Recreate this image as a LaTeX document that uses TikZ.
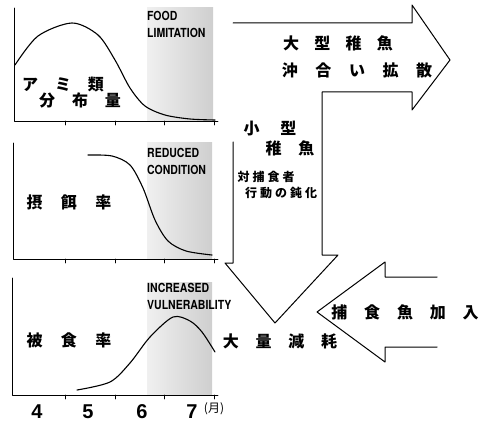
\documentclass[tikz,border=0pt]{standalone}
\usepackage{fontspec}
\newfontfamily\jp{Noto Sans CJK JP}
\newfontfamily\cond[FakeStretch=0.84]{TeX Gyre Heros}
\newfontfamily\digitfont{Liberation Sans}

\tikzset{
  jwide/.style={font=\jp\bfseries\fontsize{16}{18}\selectfont, inner sep=0pt,
    execute at begin node={\spaceskip=#1\relax}},
  jlab/.style={jwide=1.05em},
  jsmall/.style={font=\jp\bfseries\fontsize{12}{14}\selectfont, inner sep=0pt,
    execute at begin node={\spaceskip=0.25em\relax}},
  elab/.style={font=\cond\bfseries\fontsize{12.5}{13}\selectfont, inner sep=0pt, anchor=west},
  period/.style={left color=gray!12, right color=gray!38},
  curve/.style={line width=1.1pt},
  flow/.style={line width=1pt}
}

\begin{document}
\begin{tikzpicture}[x=1pt,y=-1pt,line cap=round,line join=round]
  \useasboundingbox (0,0) rectangle (484,422);

  % shaded periods
  \shade[period] (147,8) rectangle (213,121);
  \shade[period] (147,143) rectangle (212,259);
  \shade[period] (147,282) rectangle (212,395);

  % panel axes and month ticks
  \foreach \yt/\yb/\xa in {8/121/14, 143/259/13, 278/395/12}{
    \draw[line width=0.9pt] (\xa,\yt) -- (\xa,\yb) -- (218,\yb);
    \foreach \t in {65,115,164,214}{
      \draw[line width=0.9pt] (\t,\yb) -- (\t,\yb+4);
    }
  }

  % curves
  \draw[curve] plot[smooth] coordinates {(15,65) (38,36) (72,23) (98,35) (115,60) (130,88) (145,106) (165,115) (190,119) (215,120)};
  \draw[curve] plot[smooth] coordinates {(88,155) (112,156) (130,165) (143,188) (155,220) (168,241) (186,251) (212,255)};
  \draw[curve] plot[smooth] coordinates {(77,390) (110,382) (130,363) (150,337) (173,317) (190,321) (202,332) (215,352)};

  % period labels
  \node[elab] (food) at (147,16) {FOOD};
  \node[elab] (limit) at (147,33) {LIMITATION};
  \node[elab] (reduced) at (147,153) {REDUCED};
  \node[elab] (cond) at (147,170) {CONDITION};
  \node[elab] (incr) at (147,288) {INCREASED};
  \node[elab] (vuln) at (147,305) {VULNERABILITY};

  % panel labels
  \node[jlab] (ami) at (63,85) {ア ミ 類};
  \node[jlab] (bunpu) at (80,100) {分 布 量};
  \node[jwide=1.15em] (sesa) at (69,202) {摂 餌 率};
  \node[jwide=1.15em] (hishoku) at (69,340) {被 食 率};

  % months
  \foreach \m/\x in {4/37,5/88,6/142,7/192}{
    \node[font=\digitfont\bfseries\fontsize{20}{21}\selectfont, inner sep=0pt] (m\m) at (\x,412) {\m};
  }
  \node[font=\jp\fontsize{12}{14}\selectfont, inner sep=0pt] (tsuki) at (214,409) {(月)};

  % bent flow arrow: offshore dispersal and downward loss
  \draw[flow] (233,142) -- (233,263) -- (225,263) -- (275,323) -- (338,255) -- (322,255)
    -- (322,92) -- (412,92) -- (412,110) -- (450,60) -- (412,5) -- (412,23) -- (233,23);

  % predator arrow
  \draw[flow] (437,277) -- (385,277) -- (385,262) -- (317,312) -- (385,362) -- (385,347) -- (437,347);

  % flow labels
  \node[jwide=0.95em] (ogata) at (338,43) {大 型 稚 魚};
  \node[jwide=1.1em] (okiai) at (357,70) {沖 合 い 拡 散};
  \node[jwide=1.3em] (kogata) at (270,129) {小 型};
  \node[jlab] (chigyo) at (290,148) {稚 魚};
  \node[jsmall] (taiho) at (266,177) {対 捕 食 者};
  \node[jsmall] (kodo) at (281,193) {行 動 の 鈍 化};
  \node[jlab] (tairyo) at (280,341) {大 量 減 耗};
  \node[jlab] (hoshoku) at (405,312) {捕 食 魚 加 入};
\end{tikzpicture}
\end{document}
